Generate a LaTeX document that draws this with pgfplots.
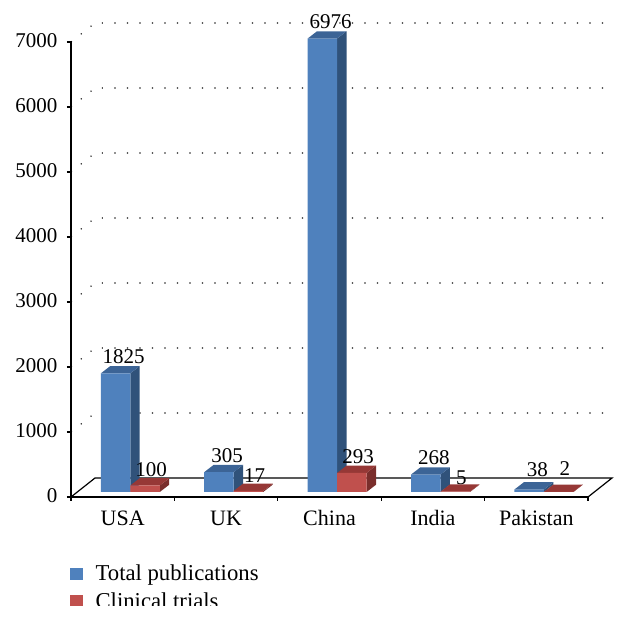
\documentclass[border=0pt]{standalone}
\usepackage{fontspec}
\setmainfont{Liberation Serif}
\usepackage{pgfplots}
\usepackage{pgfplotstable}
\pgfplotsset{compat=1.18}

\definecolor{bluefront}{RGB}{79,129,189}
\definecolor{bluetop}{RGB}{60,100,150}
\definecolor{blueside}{RGB}{48,82,122}
\definecolor{redfront}{RGB}{192,80,77}
\definecolor{redtop}{RGB}{150,56,54}
\definecolor{redside}{RGB}{122,46,44}

% bar centres sit at x.5, dy = label lift above the front top edge
\pgfplotstableread{
x   v    dy
0.5 1825 17
1.5 305  17
2.5 6976 17
3.5 268  17
4.5 38   20
}\bluetab
\pgfplotstableread{
x   v    dy
0.5 100  16
1.5 17   15
2.5 293  16
3.5 5    14
4.5 2    23
}\redtab

\tikzset{
  blueshift/.style={xshift=-7.15pt,yshift=5pt},
  redshift/.style={xshift=22.35pt,yshift=5pt},
  wall/.style={black,line width=1.1pt,dash pattern=on 1.1pt off 11.4pt},
}

% side and top face of one bar: centre, value, side colour, top colour, shift style
\newcommand{\faces}[5]{%
  \addplot[fill=#3,draw=none,forget plot,#5] coordinates
    {(#1+0.1426,0) (#1+0.2336,112) (#1+0.2336,#2+112) (#1+0.1426,#2)} --cycle;
  \addplot[fill=#4,draw=none,forget plot,#5] coordinates
    {(#1-0.1426,#2) (#1+0.1426,#2) (#1+0.2336,#2+112) (#1-0.0516,#2+112)} --cycle;
}

\begin{document}
\begin{tikzpicture}
\useasboundingbox (-71pt,-123pt) rectangle (557pt,497pt);
\clip (-71pt,-108pt) rectangle (557pt,497pt);
\begin{axis}[
    scale only axis,
    width=517pt,
    height=455pt,
    xmin=0, xmax=5,
    ymin=0, ymax=7000,
    clip=false,
    axis lines=left,
    axis line style={-,black,line width=1.3pt},
    tick align=outside,
    tick style={black,line width=1.1pt},
    major tick length=4pt,
    minor tick length=4pt,
    xtick={0.5,1.5,2.5,3.5,4.5},
    xticklabels={USA,UK,China,India,Pakistan},
    minor xtick={0,1,2,3,4,5},
    major x tick style={draw=none},
    ytick={0,1000,2000,3000,4000,5000,6000,7000},
    scaled y ticks=false,
    /pgf/number format/assume math mode=true,
    /pgf/number format/1000 sep={},
    tick label style={font=\fontsize{21}{24}\selectfont},
    x tick label style={yshift=-6pt,font=\fontsize{22}{24}\selectfont,text height=15pt,text depth=0pt},
    y tick label style={xshift=-6pt,yshift=1pt},
    legend image code/.code={\fill[draw=none,#1] (0pt,-6.3pt) rectangle (12.7pt,6.3pt);
      \path[draw=none,fill=none] (0pt,0pt) -- (23.4pt,0pt);},
    legend cell align=left,
    legend style={at={(-1pt,-66pt)},anchor=north west,draw=none,fill=none,inner sep=0pt,
      font=\fontsize{22.7}{24}\selectfont,row sep=6pt},
    nodes near coords style={font=\fontsize{21}{24}\selectfont,anchor=center,text=black},
]
% back wall grid
\pgfplotsinvokeforeach{1000,2000,3000,4000,5000,6000,7000}{
  \addplot[wall,forget plot] coordinates {(0,#1) (0.232,#1+292) (5.232,#1+292)};
}
% floor outline
\addplot[black,line width=1.2pt,forget plot] coordinates {(0,0) (0.232,292) (5.232,292) (5,0)};

% blue series
\faces{0.5}{1825}{blueside}{bluetop}{blueshift}
\faces{1.5}{305}{blueside}{bluetop}{blueshift}
\faces{2.5}{6976}{blueside}{bluetop}{blueshift}
\faces{3.5}{268}{blueside}{bluetop}{blueshift}
\faces{4.5}{38}{blueside}{bluetop}{blueshift}
\addplot[ybar,bar width=29.5pt,bar shift=0pt,fill=bluefront,draw=none,forget plot,blueshift]
  table[x=x,y=v]{\bluetab};

% red series
\faces{0.5}{100}{redside}{redtop}{redshift}
\faces{1.5}{17}{redside}{redtop}{redshift}
\faces{2.5}{293}{redside}{redtop}{redshift}
\faces{3.5}{5}{redside}{redtop}{redshift}
\faces{4.5}{2}{redside}{redtop}{redshift}
\addplot[ybar,bar width=29.5pt,bar shift=0pt,fill=redfront,draw=none,forget plot,redshift]
  table[x=x,y=v]{\redtab};

% value labels
\addplot[draw=none,mark=none,forget plot,point meta=y,
  visualization depends on={\thisrow{dy} \as \lift},
  nodes near coords,
  nodes near coords style={xshift=1pt,yshift={(5+\lift)*1pt}}]
  table[x=x,y=v]{\bluetab};
\addplot[draw=none,mark=none,forget plot,point meta=y,
  visualization depends on={\thisrow{dy} \as \lift},
  nodes near coords,
  nodes near coords style={xshift=28.5pt,yshift={(5+\lift)*1pt}}]
  table[x=x,y=v]{\redtab};

\addlegendimage{fill=bluefront}
\addlegendentry{Total publications}
\addlegendimage{fill=redfront}
\addlegendentry{Clinical trials}
\end{axis}
\end{tikzpicture}
\end{document}
